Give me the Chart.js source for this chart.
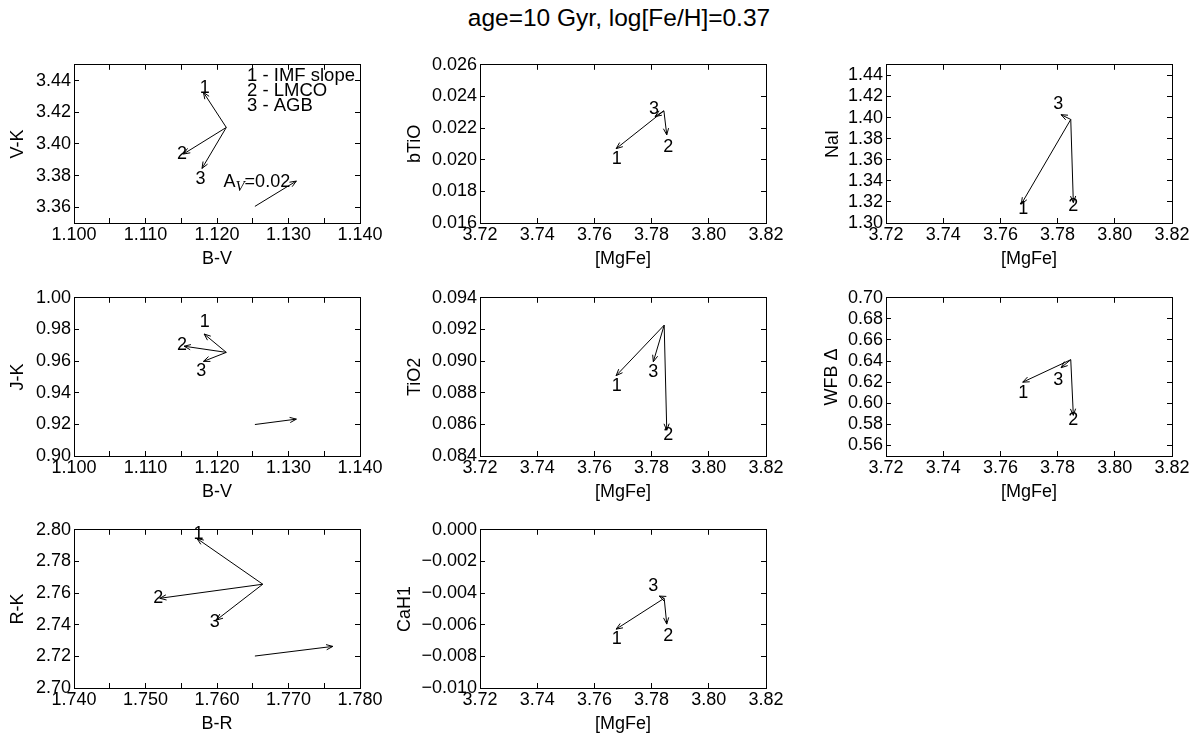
<!DOCTYPE html>
<html>
<head>
<meta charset="utf-8">
<script src="https://cdn.jsdelivr.net/npm/chart.js@4"></script>
<style>
  body { margin: 0; background: #fff; width: 1199px; height: 738px; position: relative; overflow: hidden;
         font-family: "Liberation Sans", Arial, sans-serif; }
  #title { position: absolute; left: 369px; width: 500px; top: 4px; text-align: center; font-size: 24.5px; color: #000; }
  canvas.panel { position: absolute; }
</style>
</head>
<body>
<div id="title">age=10 Gyr, log[Fe/H]=0.37</div>
<script>
// --- tick labels ---
const bvTicks = [1.100, 1.105, 1.110, 1.115, 1.120, 1.125, 1.130, 1.135, 1.140];
const brTicks = [1.740, 1.745, 1.750, 1.755, 1.760, 1.765, 1.770, 1.775, 1.780];
const mgfeTicks = [3.72, 3.74, 3.76, 3.78, 3.80, 3.82];
const vkTicks = [3.36, 3.38, 3.40, 3.42, 3.44];
const btioTicks = [0.016, 0.018, 0.020, 0.022, 0.024, 0.026];
const naiTicks = [1.30, 1.32, 1.34, 1.36, 1.38, 1.40, 1.42, 1.44];
const jkTicks = [0.90, 0.92, 0.94, 0.96, 0.98, 1.00];
const tio2Ticks = [0.084, 0.086, 0.088, 0.090, 0.092, 0.094];
const wfbTicks = [0.56, 0.58, 0.60, 0.62, 0.64, 0.66, 0.68, 0.70];
const rkTicks = [2.70, 2.72, 2.74, 2.76, 2.78, 2.80];
const cahTicks = [-0.010, -0.008, -0.006, -0.004, -0.002, 0.000];

// arrows: 1 - IMF slope, 2 - LMCO, 3 - AGB
const arrowNames = ['1', '2', '3'];
const legendLines = ['1 - IMF slope', '2 - LMCO', '3 - AGB'];

// V-K vs B-V
const vkStart = [1.1213, 3.4104];
const vkTips = [[1.1181, 3.4326], [1.1153, 3.3936], [1.1179, 3.3845]];
const vkNums = [[1.1183, 3.4356], [1.1151, 3.3936], [1.1177, 3.3780]];
const vkRedden = [[1.1253, 3.3605], [1.1311, 3.3765]];

// bTiO vs [MgFe]
const btioStart = [3.7843, 0.02309];
const btioTips = [[3.7676, 0.02070], [3.7853, 0.02157], [3.7812, 0.02273]];
const btioNums = [[3.7678, 0.02004], [3.7858, 0.02082], [3.7808, 0.02320]];

// NaI vs [MgFe]
const naiStart = [3.7846, 1.3982];
const naiTips = [[3.7673, 1.3179], [3.7855, 1.3194], [3.7812, 1.4027]];
const naiNums = [[3.7680, 1.3134], [3.7855, 1.3157], [3.7802, 1.4124]];

// J-K vs B-V
const jkStart = [1.1213, 0.9655];
const jkTips = [[1.1182, 0.9771], [1.1154, 0.9694], [1.1181, 0.9598]];
const jkNums = [[1.1183, 0.9846], [1.1151, 0.9700], [1.1178, 0.9537]];
const jkRedden = [[1.1253, 0.9199], [1.1311, 0.9233]];

// TiO2 vs [MgFe]
const tio2Start = [3.7844, 0.09227];
const tio2Tips = [[3.7676, 0.08908], [3.7853, 0.08563], [3.7806, 0.08996]];
const tio2Nums = [[3.7678, 0.08841], [3.7858, 0.08532], [3.7806, 0.08929]];

// WFB Delta vs [MgFe]
const wfbStart = [3.7846, 0.6413];
const wfbTips = [[3.7678, 0.6200], [3.7855, 0.5886], [3.7812, 0.6337]];
const wfbNums = [[3.7680, 0.6100], [3.7855, 0.5844], [3.7802, 0.6224]];

// R-K vs B-R
const rkStart = [1.7664, 2.7656];
const rkTips = [[1.7572, 2.7945], [1.7520, 2.7567], [1.7599, 2.7429]];
const rkNums = [[1.7574, 2.7976], [1.7518, 2.7567], [1.7597, 2.7419]];
const rkRedden = [[1.7653, 2.7202], [1.7762, 2.7263]];

// CaH1 vs [MgFe]
const cahStart = [3.7844, -0.00433];
const cahTips = [[3.7676, -0.00628], [3.7853, -0.00596], [3.7827, -0.00419]];
const cahNums = [[3.7678, -0.00689], [3.7858, -0.00669], [3.7806, -0.00358]];

// --- layout ---
const FONT = '"Liberation Sans", Arial, sans-serif';
const FS = 18;
const colPlotLeft = [74, 480, 886];
const colCanvasLeft = [0, 380, 790];
const rowPlotTop = [58, 291, 523];
const PLOT_W = 286, PLOT_H = 165;
const PAD_TOP = 12, PAD_RIGHT = 30, X_AXIS_H = 51;
const TITLE_OFFSET = FS * 1.2 / 2 + 4;

Chart.defaults.font.family = FONT;
Chart.defaults.font.size = FS;
Chart.defaults.color = '#000';

const colourFmt = (v, i) => (i % 2 === 0 ? v.toFixed(3) : '');
const fix2 = v => v.toFixed(2);
const fix3 = v => (v < -1e-9 ? '\u2212' : '') + Math.abs(v).toFixed(3);

const panels = [
  { row: 0, col: 0, titleX: 18, xLabel: 'B-V', yLabel: 'V-K', x: [1.10, 1.14], y: [3.35, 3.45],
    xTicks: bvTicks, yTicks: vkTicks, xFmt: colourFmt, yFmt: fix2,
    start: vkStart, tips: vkTips, nums: vkNums, redden: vkRedden, legend: true },
  { row: 0, col: 1, titleX: 415, xLabel: '[MgFe]', yLabel: 'bTiO', x: [3.72, 3.82], y: [0.016, 0.026],
    xTicks: mgfeTicks, yTicks: btioTicks, xFmt: fix2, yFmt: fix3,
    start: btioStart, tips: btioTips, nums: btioNums },
  { row: 0, col: 2, titleX: 833, xLabel: '[MgFe]', yLabel: 'NaI', x: [3.72, 3.82], y: [1.30, 1.45],
    xTicks: mgfeTicks, yTicks: naiTicks, xFmt: fix2, yFmt: fix2,
    start: naiStart, tips: naiTips, nums: naiNums },
  { row: 1, col: 0, titleX: 18, xLabel: 'B-V', yLabel: 'J-K', x: [1.10, 1.14], y: [0.90, 1.00],
    xTicks: bvTicks, yTicks: jkTicks, xFmt: colourFmt, yFmt: fix2,
    start: jkStart, tips: jkTips, nums: jkNums, redden: jkRedden },
  { row: 1, col: 1, titleX: 415, xLabel: '[MgFe]', yLabel: 'TiO2', x: [3.72, 3.82], y: [0.084, 0.094],
    xTicks: mgfeTicks, yTicks: tio2Ticks, xFmt: fix2, yFmt: fix3,
    start: tio2Start, tips: tio2Tips, nums: tio2Nums },
  { row: 1, col: 2, titleX: 832, xLabel: '[MgFe]', yLabel: 'WFB \u0394', x: [3.72, 3.82], y: [0.55, 0.70],
    xTicks: mgfeTicks, yTicks: wfbTicks, xFmt: fix2, yFmt: fix2,
    start: wfbStart, tips: wfbTips, nums: wfbNums },
  { row: 2, col: 0, titleX: 18, xLabel: 'B-R', yLabel: 'R-K', x: [1.74, 1.78], y: [2.70, 2.80],
    xTicks: brTicks, yTicks: rkTicks, xFmt: colourFmt, yFmt: fix2,
    start: rkStart, tips: rkTips, nums: rkNums, redden: rkRedden },
  { row: 2, col: 1, titleX: 405, xLabel: '[MgFe]', yLabel: 'CaH1', x: [3.72, 3.82], y: [-0.010, 0.000],
    xTicks: mgfeTicks, yTicks: cahTicks, xFmt: fix2, yFmt: fix3,
    start: cahStart, tips: cahTips, nums: cahNums },
];

const pt = p => ({ x: p[0], y: p[1] });

// arrow heads, numbers and notes drawn from the chart's own scales
function makeArrowPlugin(p) {
  return {
    id: 'arrows',
    afterDatasetsDraw(chart) {
      const { ctx } = chart;
      const xs = chart.scales.x, ys = chart.scales.y;
      const px = v => xs.getPixelForValue(v), py = v => ys.getPixelForValue(v);
      ctx.save();
      ctx.strokeStyle = '#000';
      ctx.lineWidth = 1;
      chart.data.datasets.forEach(ds => {
        const [a, b] = ds.data;
        const x1 = px(a.x), y1 = py(a.y), x2 = px(b.x), y2 = py(b.y);
        const ang = Math.atan2(y2 - y1, x2 - x1);
        const len = 7, spread = 0.38;
        ctx.beginPath();
        ctx.moveTo(x2 - len * Math.cos(ang - spread), y2 - len * Math.sin(ang - spread));
        ctx.lineTo(x2, y2);
        ctx.lineTo(x2 - len * Math.cos(ang + spread), y2 - len * Math.sin(ang + spread));
        ctx.stroke();
      });
      ctx.fillStyle = '#000';
      ctx.font = `${FS}px ${FONT}`;
      ctx.textAlign = 'center';
      ctx.textBaseline = 'middle';
      p.nums.forEach((n, i) => ctx.fillText(arrowNames[i], px(n[0]), py(n[1])));

      if (p.legend) {
        // key in the corner and the reddening note
        ctx.textAlign = 'left';
        ctx.font = `18.5px ${FONT}`;
        const keyY = [3.4427, 3.4336, 3.4241];
        legendLines.forEach((t, i) => ctx.fillText(t, px(1.1242), py(keyY[i])));
        let ax = px(1.1209);
        const ay = py(3.3761);
        ctx.font = `${FS}px ${FONT}`;
        ctx.fillText('A', ax, ay);
        ax += ctx.measureText('A').width;
        ctx.font = `italic 15px "Liberation Serif", "Times New Roman", serif`;
        ctx.fillText('V', ax, ay + 5);
        ax += ctx.measureText('V').width;
        ctx.font = `${FS}px ${FONT}`;
        ctx.fillText('=0.02', ax, ay);
      }
      ctx.restore();
    }
  };
}

function axisCommon(ticksArr) {
  return {
    type: 'linear',
    afterBuildTicks: s => { s.ticks = ticksArr.map(v => ({ value: v })); },
    grid: { drawOnChartArea: false, drawTicks: true, tickLength: -5, color: '#000', lineWidth: 1 },
    border: { display: true, color: '#000', width: 1 },
  };
}

panels.forEach(p => {
  const canvasLeft = colCanvasLeft[p.col];
  const plotLeft = colPlotLeft[p.col];
  const plotTop = rowPlotTop[p.row];
  const padLeft = p.titleX - TITLE_OFFSET - canvasLeft;
  const yWidth = plotLeft - canvasLeft - padLeft;
  const width = plotLeft + PLOT_W + PAD_RIGHT - canvasLeft;
  const height = PAD_TOP + PLOT_H + X_AXIS_H;

  const cv = document.createElement('canvas');
  cv.className = 'panel';
  cv.width = width;
  cv.height = height;
  cv.style.left = canvasLeft + 'px';
  cv.style.top = (plotTop - PAD_TOP) + 'px';
  cv.style.width = width + 'px';
  cv.style.height = height + 'px';
  document.body.appendChild(cv);

  const line = data => ({
    data, showLine: true, borderColor: '#000', borderWidth: 1, pointRadius: 0, fill: false, clip: false,
  });
  const datasets = p.tips.map(t => line([pt(p.start), pt(t)]));
  if (p.redden) datasets.push(line(p.redden.map(pt)));

  new Chart(cv, {
    type: 'scatter',
    data: { datasets },
    options: {
      responsive: false,
      animation: false,
      devicePixelRatio: 1,
      events: [],
      layout: { padding: { left: padLeft, top: PAD_TOP, right: PAD_RIGHT, bottom: 0 } },
      plugins: { legend: { display: false }, tooltip: { enabled: false } },
      scales: {
        x: {
          ...axisCommon(p.xTicks),
          position: 'bottom',
          min: p.x[0], max: p.x[1],
          ticks: { padding: 6, maxRotation: 0, autoSkip: false, callback: (v, i) => p.xFmt(v, i) },
          title: { display: true, text: p.xLabel, font: { size: FS } },
          afterFit: s => { s.height = X_AXIS_H; },
        },
        y: {
          ...axisCommon(p.yTicks),
          position: 'left',
          min: p.y[0], max: p.y[1],
          ticks: { padding: 8, autoSkip: false, callback: v => p.yFmt(v) },
          title: { display: true, text: p.yLabel, font: { size: FS } },
          afterFit: s => { s.width = yWidth; },
        },
        x2: {
          ...axisCommon(p.xTicks),
          position: 'top',
          min: p.x[0], max: p.x[1],
          ticks: { display: false },
          afterFit: s => { s.height = 0; },
        },
        y2: {
          ...axisCommon(p.yTicks),
          position: 'right',
          min: p.y[0], max: p.y[1],
          ticks: { display: false },
          afterFit: s => { s.width = 0; },
        },
      },
    },
    plugins: [makeArrowPlugin(p)],
  });
});
</script>
</body>
</html>
